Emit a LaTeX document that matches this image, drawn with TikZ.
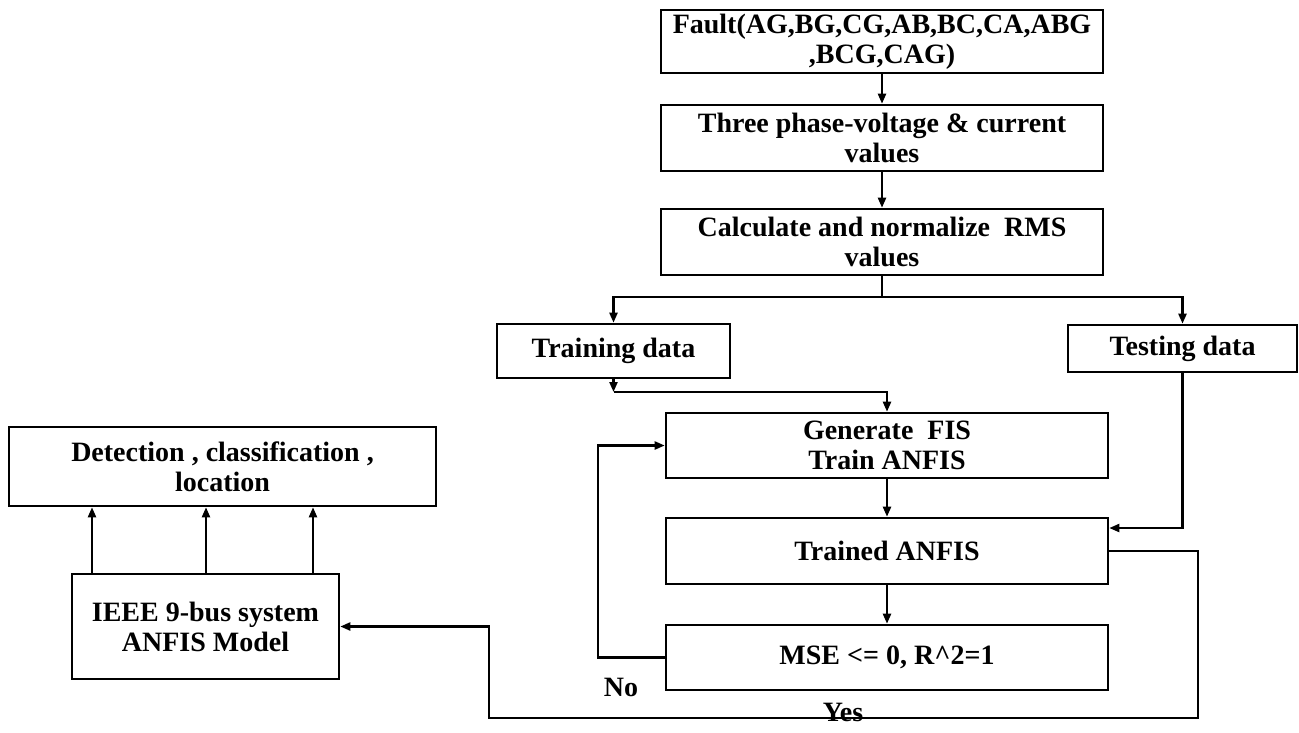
\documentclass[tikz,border=0pt]{standalone}
\usepackage{fontspec}
\setmainfont{Liberation Serif}
\usetikzlibrary{arrows.meta,calc}
\begin{document}
\begin{tikzpicture}[x=1pt,y=-1pt,
  box/.style={draw, line width=2.6pt, align=center, inner sep=0pt,
    font=\bfseries\fontsize{28}{30}\selectfont},
  lbl/.style={font=\bfseries\fontsize{28}{30}\selectfont, inner sep=0pt},
  arrow/.style={line width=2.2pt, -{Triangle[length=10pt,width=8pt]}},
  link/.style={line width=2.2pt}]
\useasboundingbox[fill=white] (0,0) rectangle (1299,732);

% main processing chain
\node[box, minimum width=442pt, minimum height=63pt] (fault) at (882,41.5)
  {Fault(AG,BG,CG,AB,BC,CA,ABG\\,BCG,CAG)};
\node[box, minimum width=442pt, minimum height=66pt] (three) at (882,138)
  {Three phase-voltage \& current\\values};
\node[box, minimum width=442pt, minimum height=66pt] (calc) at (882,242)
  {Calculate and normalize\ \ RMS\\values};
\node[box, minimum width=233pt, minimum height=54pt] (train) at (613.5,351)
  {Training data};
\node[box, minimum width=229pt, minimum height=47pt] (test) at (1182.5,348.5)
  {Testing data};
\node[box, minimum width=442pt, minimum height=65pt] (gen) at (887,445.5)
  {Generate\ \ FIS\\Train ANFIS};
\node[box, minimum width=442pt, minimum height=66pt] (trained) at (887,551)
  {Trained ANFIS};
\node[box, minimum width=442pt, minimum height=65pt] (mse) at (887,657.5)
  {MSE <= 0, R\textasciicircum 2=1};

% output side
\node[box, minimum width=427pt, minimum height=79pt] (det) at (222.5,466.5)
  {Detection , classification ,\\location};
\node[box, minimum width=267pt, minimum height=105pt] (ieee) at (205.5,626.5)
  {IEEE 9-bus system\\ANFIS Model};

% branch labels
\node[lbl] (no) at (621,687) {No};
\node[lbl] (yes) at (843,712) {Yes};

% junction points
\coordinate (split) at (882,297);
\coordinate (tj) at (613.5,392);
\coordinate (c1) at (1198,718);
\coordinate (c2) at (489,718);

% connectors
\draw[arrow] (fault) -- (three);
\draw[arrow] (three) -- (calc);
\draw[link] (calc) -- (split);
\draw[arrow] (split) -| (train);
\draw[arrow] (split) -| (test);
\draw[arrow] (train) -- (tj);
\draw[arrow] (tj) -| (gen);
\draw[arrow] (gen) -- (trained);
\draw[arrow] (trained) -- (mse);
\draw[arrow] (test.south) |- ([yshift=23pt]trained.east);
\draw[arrow] (mse.west) -- ++(-67,0) |- (gen.west);
\draw[arrow] (trained.east) -| (c1) -- (c2) |- (ieee.east);

% three outputs of the model
\coordinate (a1) at ($(ieee.north)+(-113.5,0)$);
\coordinate (a2) at ($(ieee.north)+(0.5,0)$);
\coordinate (a3) at ($(ieee.north)+(107.5,0)$);
\draw[arrow] (a1) -- (a1 |- det.south);
\draw[arrow] (a2) -- (a2 |- det.south);
\draw[arrow] (a3) -- (a3 |- det.south);
\end{tikzpicture}
\end{document}
